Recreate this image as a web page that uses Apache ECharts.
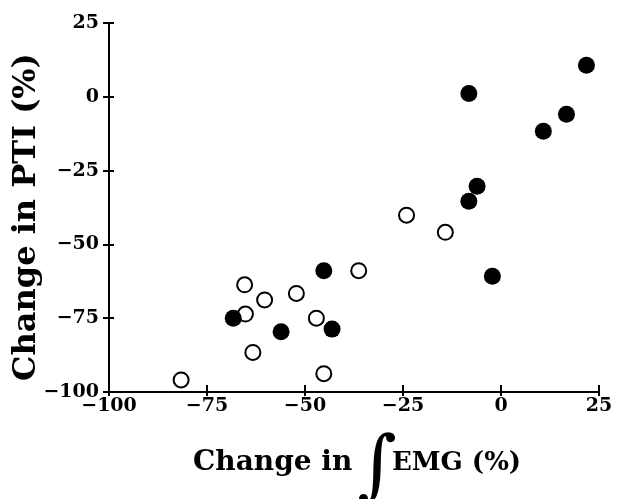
<!DOCTYPE html>
<html>
<head>
<meta charset="utf-8">
<script src="https://cdn.jsdelivr.net/npm/echarts@6/dist/echarts.min.js"></script>
<style>html,body{margin:0;padding:0;background:#fff;}#c{width:617px;height:499px;}</style>
</head>
<body>
<div id="c"></div>
<script>
// Data (Change in ∫EMG %, Change in PTI %)
var filledX = [-8.2, 21.8, 16.7, 10.8, -6.1, -8.2, -45.2, -2.2, -68.3, -56.1, -43.1];
var filledY = [1.1, 10.7, -5.9, -11.7, -30.3, -35.4, -58.9, -60.8, -75.0, -79.6, -78.7];
var openX = [-24.1, -14.2, -36.3, -65.4, -60.3, -52.2, -65.2, -47.1, -63.3, -45.2, -81.6];
var openY = [-40.1, -45.9, -58.9, -63.7, -68.8, -66.6, -73.6, -75.0, -86.6, -93.8, -95.9];
var xTicks = [-100, -75, -50, -25, 0, 25];
var yTicks = [-100, -75, -50, -25, 0, 25];
var xTitle = 'Change in';
var xTitle2 = 'EMG (%)';
var yTitle = 'Change in PTI (%)';

function zip(a, b) { return a.map(function (v, i) { return [v, b[i]]; }); }
function fmt(v) { return String(v).replace('-', '\u2212'); }

var chart = echarts.init(document.getElementById('c'), null, {renderer: 'canvas'});
var tickFont = {color: '#000', fontFamily: 'DejaVu Serif', fontWeight: 'bold', fontSize: 19};
var axisBase = function (ticks, inside, len, showLabel) {
  return {
    type: 'value', min: ticks[0], max: ticks[ticks.length - 1], interval: ticks[1] - ticks[0],
    splitLine: {show: false},
    axisLine: {show: true, onZero: false, lineStyle: {color: '#000', width: 2}},
    axisTick: {show: true, inside: inside, length: len, lineStyle: {color: '#000', width: 2}},
    axisLabel: Object.assign({show: showLabel, formatter: fmt}, tickFont)
  };
};
var x1 = axisBase(xTicks, false, 4, true); x1.axisLabel.margin = 5; x1.position = 'bottom';
var x2 = axisBase(xTicks, true, 7, false); x2.position = 'bottom';
var y1 = axisBase(yTicks, false, 6, true); y1.axisLabel.margin = 10; y1.position = 'left';
var y2 = axisBase(yTicks, true, 5, false); y2.position = 'left';

chart.setOption({
  animation: false,
  backgroundColor: '#fff',
  grid: {left: 109, right: 18, top: 23, bottom: 107, containLabel: false},
  xAxis: [x1, x2],
  yAxis: [y1, y2],
  graphic: [
    {
      type: 'text', x: 27, y: 217, rotation: Math.PI / 2, z: 10,
      style: {text: yTitle, fill: '#000', font: 'bold 32px "DejaVu Serif"', align: 'center', verticalAlign: 'middle'}
    },
    {
      type: 'text', x: 193, y: 463, z: 10,
      style: {text: xTitle, fill: '#000', font: 'bold 28px "DejaVu Serif"', align: 'left', verticalAlign: 'middle'}
    },
    {
      type: 'text', x: 377, y: 470, z: 10,
      style: {text: '\u222B', fill: '#000', font: '76px "DejaVu Serif"', align: 'center', verticalAlign: 'middle'}
    },
    {
      type: 'text', x: 392, y: 463, z: 10,
      style: {text: xTitle2, fill: '#000', font: 'bold 26px "DejaVu Serif"', align: 'left', verticalAlign: 'middle'}
    }
  ],
  series: [
    {
      type: 'scatter', xAxisIndex: 0, yAxisIndex: 0, data: zip(openX, openY),
      symbol: 'circle', symbolSize: 15,
      itemStyle: {color: '#fff', borderColor: '#000', borderWidth: 2, opacity: 1}
    },
    {
      type: 'scatter', xAxisIndex: 0, yAxisIndex: 0, data: zip(filledX, filledY),
      symbol: 'circle', symbolSize: 17,
      itemStyle: {color: '#000', opacity: 1}
    }
  ]
});
</script>
</body>
</html>
